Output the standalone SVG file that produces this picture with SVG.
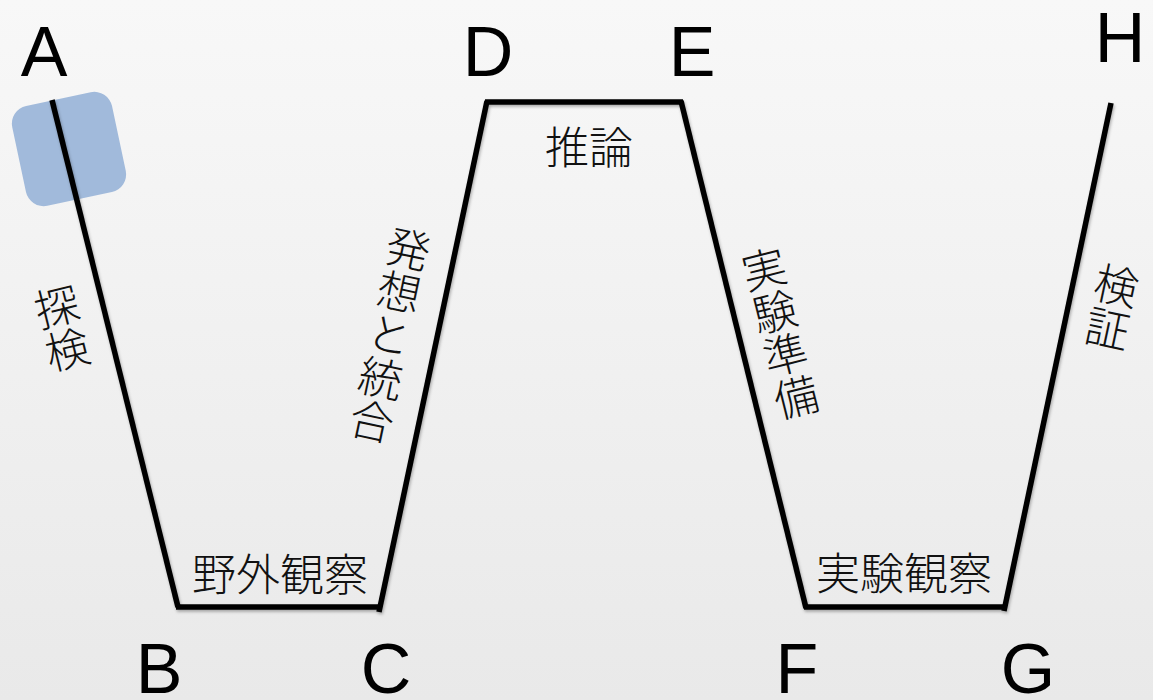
<svg xmlns="http://www.w3.org/2000/svg" width="1153" height="700" viewBox="0 0 1153 700">
<defs>
<linearGradient id="bg" x1="0" y1="0" x2="0" y2="1">
<stop offset="0" stop-color="#f8f8f8"/>
<stop offset="1" stop-color="#e9e9e9"/>
</linearGradient>
<filter id="sh" x="-5%" y="-5%" width="110%" height="110%">
<feDropShadow dx="1" dy="2" stdDeviation="1.5" flood-color="#000" flood-opacity="0.3"/>
</filter>
</defs>
<style>
.pt{font-family:"Liberation Sans",Arial,sans-serif;font-size:70px;fill:#000;text-anchor:middle}
.jp{font-family:"Noto Sans CJK JP","Noto Sans CJK SC",sans-serif;font-weight:300;font-size:44px;fill:#111;text-anchor:middle;dominant-baseline:central}
.vt{writing-mode:vertical-rl;text-orientation:upright}
.ln{fill:none;stroke:#000;stroke-width:5.5;stroke-linecap:butt;stroke-linejoin:miter}
</style>
<rect width="1153" height="700" fill="url(#bg)"/>
<g id="marker-box">
<rect x="18" y="98" width="102" height="102" rx="18" fill="#a1badb" transform="rotate(-12 69 149)"/>
</g>
<g id="connectors" filter="url(#sh)">
<line class="ln" x1="52" y1="100" x2="178" y2="607"/>
<line class="ln" x1="176" y1="607" x2="381" y2="607"/>
<line class="ln" x1="379" y1="612" x2="487" y2="101"/>
<line class="ln" x1="485" y1="102" x2="683" y2="102"/>
<line class="ln" x1="681" y1="101" x2="806" y2="608"/>
<line class="ln" x1="804" y1="607" x2="1006" y2="607"/>
<line class="ln" x1="1004" y1="611" x2="1111" y2="103"/>
</g>
<g id="node-A"><text class="pt" x="44" y="76">A</text></g>
<g id="node-B"><text class="pt" x="159" y="693">B</text></g>
<g id="node-C"><text class="pt" x="386" y="693">C</text></g>
<g id="node-D"><text class="pt" x="488" y="76">D</text></g>
<g id="node-E"><text class="pt" x="692" y="76">E</text></g>
<g id="node-F"><text class="pt" x="797" y="693">F</text></g>
<g id="node-G"><text class="pt" x="1028" y="693">G</text></g>
<g id="node-H"><text class="pt" x="1120" y="62">H</text></g>
<g id="label-tanken"><text class="jp vt" x="62" y="328" transform="rotate(-14 62 328)">探検</text></g>
<g id="label-yagai"><text class="jp" x="280" y="572">野外観察</text></g>
<g id="label-hassou"><text class="jp vt" x="390" y="335" transform="rotate(12 390 335)">発想と統合</text></g>
<g id="label-suiron"><text class="jp" x="589" y="145">推論</text></g>
<g id="label-jikken-junbi"><text class="jp vt" x="780" y="333" transform="rotate(-14 780 333)">実験準備</text></g>
<g id="label-jikken-kansatsu"><text class="jp" x="904" y="571">実験観察</text></g>
<g id="label-kensho"><text class="jp vt" x="1112" y="307" transform="rotate(12 1112 307)">検証</text></g>
</svg>
